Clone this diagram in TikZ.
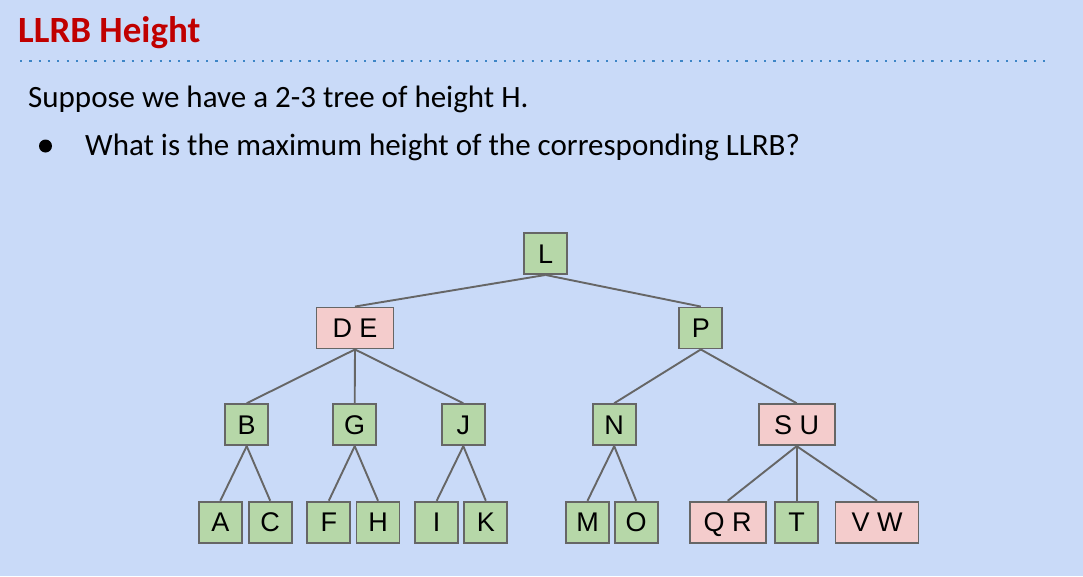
\documentclass[tikz,border=0pt]{standalone}
\usepackage{fontspec}
\setmainfont{Carlito}
\newfontfamily\treefont{Liberation Sans}
\definecolor{bgblue}{HTML}{C9DAF8}
\definecolor{titlered}{HTML}{C00000}
\definecolor{dotblue}{HTML}{3D85C6}
\definecolor{nodegreen}{HTML}{B6D7A8}
\definecolor{nodepink}{HTML}{F4CCCC}
\definecolor{edgegray}{HTML}{666666}
\begin{document}
\begin{tikzpicture}[x=1pt,y=-1pt,
  keybox/.style={draw=edgegray, line width=1.9pt, inner sep=0pt,
    minimum height=41pt, minimum width=43pt,
    font=\treefont\fontsize{27}{27}\selectfont, text height=19.3pt, text depth=0pt},
  black2/.style={keybox, fill=nodegreen},
  red3/.style={keybox, fill=nodepink},
  link/.style={draw=edgegray, line width=1.9pt},
  bodytext/.style={inner sep=0pt, anchor=base west, font=\fontsize{31}{31}\selectfont}]
\fill[bgblue] (0,0) rectangle (1083,576);
\useasboundingbox (0,0) rectangle (1083,576);
\node[inner sep=0pt, anchor=base west, text=titlered, font=\bfseries\fontsize{37}{37}\selectfont] (title) at (18,42.7) {LLRB Height};
\coordinate (dl) at (20,61);
\coordinate (dr) at (1052,61);
\draw[dotblue, line width=2.2pt, dash pattern=on 2.2pt off 7.1pt] (dl) -- (dr);
\node[bodytext] (line1) at (28,107) {Suppose we have a 2-3 tree of height H.};
\node[circle, fill=black, inner sep=0pt, minimum size=13pt] (bullet) at (45.5,146) {};
\node[bodytext] (line2) at (85,155) {What is the maximum height of the corresponding LLRB?};
% tree
\node[black2] (L) at (545.5,253.5) {L};
\node[red3, minimum width=77pt] (DE) at (355,328) {D E};
\node[black2] (P) at (700.8,328) {P};
\node[black2] (B) at (246.7,424.7) {B};
\node[black2] (G) at (354.7,424.7) {G};
\node[black2] (J) at (463.3,424.7) {J};
\node[black2] (N) at (614.2,424.7) {N};
\node[red3, minimum width=76pt] (SU) at (796.7,424.7) {S U};
\node[black2] (A) at (220.3,522.2) {A};
\node[black2] (C) at (270.2,522.2) {C};
\node[black2] (F) at (328.8,522.2) {F};
\node[black2] (H) at (378,522.2) {H};
\node[black2] (I) at (436.7,522.2) {I};
\node[black2] (K) at (485.8,522.2) {K};
\node[black2] (M) at (587.5,522.2) {M};
\node[black2] (O) at (636.2,522.2) {O};
\node[red3, minimum width=76pt] (QR) at (727.7,522.2) {Q R};
\node[black2] (T) at (796.7,522.2) {T};
\node[red3, minimum width=83pt] (VW) at (877,522.2) {V W};
\foreach \p/\c in {L/DE, L/P, DE/B, DE/G, DE/J, P/N, P/SU, B/A, B/C, G/F, G/H, J/I, J/K, N/M, N/O, SU/QR, SU/T, SU/VW}
  \draw[link] (\p.south) -- (\c.north);
\end{tikzpicture}
\end{document}
